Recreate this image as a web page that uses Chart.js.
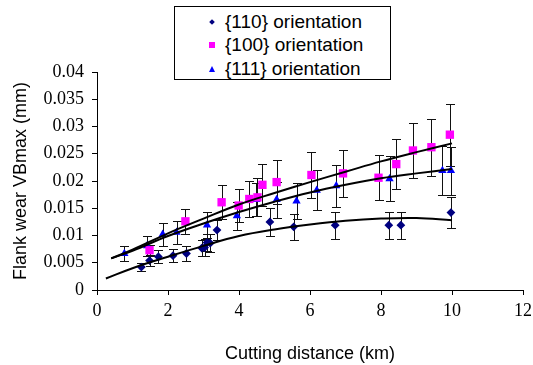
<!DOCTYPE html>
<html>
<head>
<meta charset="utf-8">
<script src="https://cdn.jsdelivr.net/npm/chart.js@4/dist/chart.umd.min.js"></script>
<style>
  body { margin: 0; background: #fff; }
  #wrap { position: relative; width: 533px; height: 365px; }
  #legend {
    position: absolute; left: 174px; top: 6px; width: 217px; height: 74px;
    box-sizing: border-box; border: 1px solid #000; background: #fff;
    font-family: "Liberation Sans", Arial, sans-serif; font-size: 19px; color: #000;
  }
  .row { position: absolute; left: 0; height: 22px; line-height: 22px; }
  .row span.txt { position: absolute; left: 50px; white-space: nowrap; }
  .mk { position: absolute; }
</style>
</head>
<body>
<div id="wrap">
  <canvas id="chart" width="533" height="365"></canvas>
  <div id="legend"></div>
</div>
<script>
// Series names
const seriesNames = ['{110} orientation', '{100} orientation', '{111} orientation'];

// {110} orientation
const x110 = [1.25, 1.48, 1.73, 2.14, 2.52, 2.95, 3.03, 3.10, 3.19, 3.38, 4.87, 5.54, 6.71, 8.22, 8.56, 9.97];
const y110 = [0.0042, 0.0054, 0.0061, 0.0063, 0.0067, 0.0077, 0.0078, 0.0087, 0.0086, 0.0110, 0.0125, 0.0116, 0.0119, 0.0119, 0.0119, 0.0142];
const e110 = [0.0008, 0.0010, 0.0012, 0.0012, 0.0013, 0.0015, 0.0015, 0.0016, 0.0016, 0.0018, 0.0025, 0.0024, 0.0025, 0.0025, 0.0025, 0.0029];

// {100} orientation
const x100 = [1.48, 2.49, 3.51, 3.99, 4.29, 4.52, 4.66, 5.06, 6.04, 6.93, 7.93, 8.43, 8.90, 9.42, 9.94];
const y100 = [0.0073, 0.0126, 0.0161, 0.0155, 0.0167, 0.0170, 0.0193, 0.0198, 0.0211, 0.0214, 0.0206, 0.0231, 0.0256, 0.0262, 0.0285];
const e100 = [0.0010, 0.0023, 0.0031, 0.0031, 0.0033, 0.0035, 0.0038, 0.0041, 0.0042, 0.0043, 0.0041, 0.0046, 0.0051, 0.0052, 0.0057];

// {111} orientation
const x111 = [0.77, 1.41, 1.85, 2.24, 3.10, 3.94, 4.49, 5.06, 5.62, 6.19, 6.74, 8.24, 9.73, 9.97];
const y111 = [0.0067, 0.0081, 0.0102, 0.0106, 0.0119, 0.0136, 0.0166, 0.0166, 0.0163, 0.0183, 0.0191, 0.0204, 0.0219, 0.0219];
const e111 = [0.0013, 0.0018, 0.0021, 0.0021, 0.0024, 0.0026, 0.0031, 0.0033, 0.0033, 0.0037, 0.0039, 0.0041, 0.0045, 0.0044];

// Trend lines
const trendX110 = [0.25, 1, 2, 3, 4, 5, 6, 7, 8, 9, 10];
const trend110 = [0.0021, 0.0040, 0.0061, 0.0081, 0.0099, 0.0111, 0.0120, 0.0127, 0.0131, 0.0132, 0.0128];
const trendXUp = [0.4, 1, 2, 3, 4, 5, 6, 7, 8, 9, 10];
const trend100 = [0.0058, 0.0074, 0.0104, 0.0131, 0.0157, 0.0178, 0.0198, 0.0217, 0.0236, 0.0253, 0.0269];
const trend111 = [0.0058, 0.0072, 0.0099, 0.0122, 0.0143, 0.0162, 0.0179, 0.0193, 0.0205, 0.0214, 0.0222];

const colors = ['#000080', '#ff00ff', '#0000ff'];
const styles = ['rectRot', 'rect', 'triangle'];
const radii = [4.4, 5.9, 4.8];

function points(xs, ys, es) {
  return xs.map((x, i) => ({ x: x, y: ys[i], e: es ? es[i] : 0 }));
}

function markerSet(i, xs, ys, es) {
  return {
    label: seriesNames[i],
    data: points(xs, ys, es),
    showLine: false,
    pointStyle: styles[i],
    pointRadius: radii[i],
    pointBackgroundColor: colors[i],
    pointBorderWidth: 0,
    errorBars: true,
    order: 1
  };
}

function trendSet(xs, ys) {
  return {
    label: 'trend',
    data: points(xs, ys),
    showLine: true,
    borderColor: '#000',
    borderWidth: 2,
    pointRadius: 0,
    tension: 0.4,
    order: 0
  };
}

// Error bars drawn through the chart scales
const errorBarPlugin = {
  id: 'errorBars',
  beforeDatasetsDraw(chart) {
    const ctx = chart.ctx;
    const xs = chart.scales.x, ys = chart.scales.y;
    ctx.save();
    ctx.strokeStyle = '#111';
    ctx.lineWidth = 1;
    chart.data.datasets.forEach(ds => {
      if (!ds.errorBars) return;
      ds.data.forEach(p => {
        const px = Math.round(xs.getPixelForValue(p.x)) + 0.5;
        const top = Math.round(ys.getPixelForValue(p.y + p.e)) + 0.5;
        const bot = Math.round(ys.getPixelForValue(p.y - p.e)) + 0.5;
        ctx.beginPath();
        ctx.moveTo(px, top); ctx.lineTo(px, bot);
        ctx.moveTo(px - 4.5, top); ctx.lineTo(px + 4.5, top);
        ctx.moveTo(px - 4.5, bot); ctx.lineTo(px + 4.5, bot);
        ctx.stroke();
      });
    });
    ctx.restore();
  }
};

const tickFont = { family: '"Liberation Serif", "Times New Roman", serif', size: 18 };
const titleFont = { family: '"Liberation Sans", Arial, sans-serif', size: 18 };

new Chart(document.getElementById('chart'), {
  type: 'scatter',
  data: {
    datasets: [
      trendSet(trendX110, trend110),
      trendSet(trendXUp, trend100),
      trendSet(trendXUp, trend111),
      markerSet(0, x110, y110, e110),
      markerSet(1, x100, y100, e100),
      markerSet(2, x111, y111, e111)
    ]
  },
  options: {
    responsive: false,
    animation: false,
    layout: { padding: { top: 72, right: 10, left: 0, bottom: 0 } },
    plugins: {
      legend: { display: false },
      tooltip: { enabled: false }
    },
    scales: {
      x: {
        type: 'linear',
        min: 0, max: 12,
        ticks: { stepSize: 2, color: '#000', font: tickFont, padding: 5 },
        grid: { drawOnChartArea: false, color: '#000', tickLength: 5 },
        border: { color: '#000', width: 1 },
        title: { display: true, text: 'Cutting distance (km)', color: '#000', font: titleFont, padding: { top: 2, bottom: 0 } },
        afterFit(scale) {
          scale.height = 75;
          scale.paddingRight = 0;
          scale.paddingLeft = 0;
        }
      },
      y: {
        min: 0, max: 0.04,
        ticks: {
          stepSize: 0.005, color: '#000', font: tickFont, padding: 8,
          callback: v => String(Number(v.toFixed(4)))
        },
        grid: { drawOnChartArea: false, color: '#000', tickLength: 5 },
        border: { color: '#000', width: 1 },
        title: { display: true, text: 'Flank wear VBmax (mm)', color: '#000', font: titleFont, padding: { top: 10, bottom: 0 } },
        afterFit(scale) {
          scale.width = 97;
          scale.paddingTop = 0;
          scale.paddingBottom = 0;
        }
      }
    }
  },
  plugins: [errorBarPlugin]
});

// Legend (one entry per row, boxed)
const legend = document.getElementById('legend');
const rowTops = [4, 27, 51];
seriesNames.forEach((name, i) => {
  const row = document.createElement('div');
  row.className = 'row';
  row.style.top = rowTops[i] + 'px';
  const mk = document.createElement('div');
  mk.className = 'mk';
  if (i === 0) {
    mk.style.cssText = 'left:35px;top:9px;width:4px;height:4px;background:' + colors[0] + ';transform:rotate(45deg);';
  } else if (i === 1) {
    mk.style.cssText = 'left:34px;top:8px;width:6px;height:6px;background:' + colors[1] + ';';
  } else {
    mk.style.cssText = 'left:34px;top:8px;width:0;height:0;border-left:3px solid transparent;border-right:3px solid transparent;border-bottom:6px solid ' + colors[2] + ';';
  }
  const txt = document.createElement('span');
  txt.className = 'txt';
  txt.textContent = name;
  row.appendChild(mk);
  row.appendChild(txt);
  legend.appendChild(row);
});
</script>
</body>
</html>
